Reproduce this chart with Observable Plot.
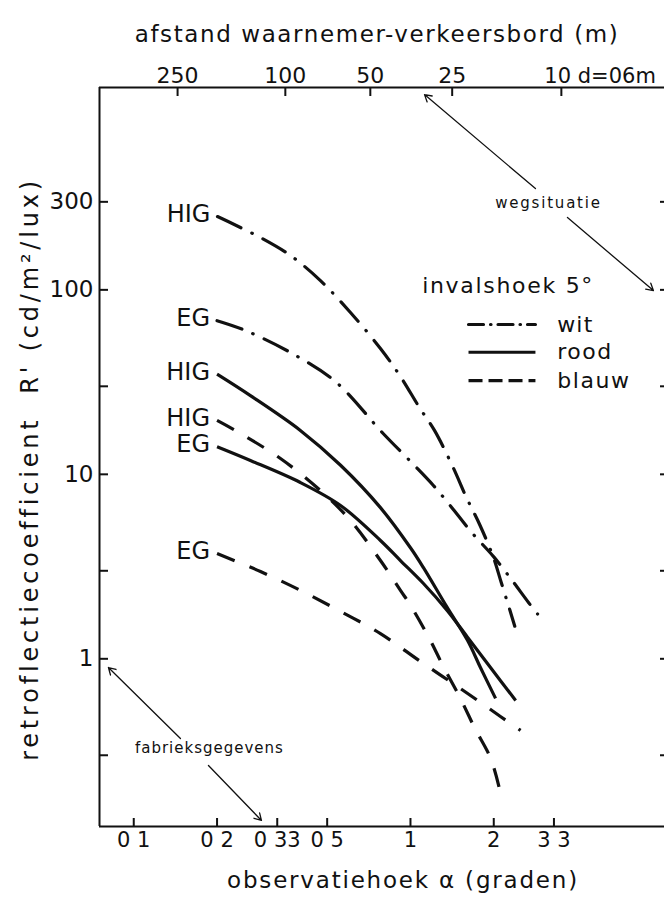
<!DOCTYPE html>
<html><head><meta charset="utf-8">
<script src="https://cdn.jsdelivr.net/npm/d3@7"></script>
<script src="https://cdn.jsdelivr.net/npm/@observablehq/plot@0.6"></script>
<style>
html,body{margin:0;padding:0;background:#fff;overflow:hidden;}
#chart svg{display:block;}
</style></head><body><div id="chart"></div>
<script>
// ---- data ----
const angleTicks = [0.1, 0.2, 0.33, 0.5, 1, 2, 3.3];
const angleTickLabels = ["0 1", "0 2", "0 33", "0 5", "1", "2", "3 3"];
const rTicks = [300, 100, 30, 10, 3, 1, 0.3];
const rTickLabels = [300, 100, 10, 1];
const distances = ["250", "100", "50", "25", "10 d=06m"];
const distanceAngles = [0.144, 0.353, 0.716, 1.415, 3.51];

const witHIG_a = [0.2007, 0.287, 0.3685, 0.4728, 0.6069, 0.7789, 0.920, 1.078, 1.2213, 1.427, 1.581, 1.785, 1.995, 2.127, 2.285, 2.382];
const witHIG_r = [249.6, 192.1, 153.5, 112.3, 75.4, 48.1, 33.9, 23.0, 17.3, 10.88, 7.68, 5.28, 3.54, 2.60, 1.843, 1.502];
const witEG_a = [0.2, 0.2533, 0.369, 0.5358, 0.795, 1.02, 1.21, 1.40, 1.66, 2.0, 2.33, 2.67, 2.88];
const witEG_r = [68, 60.2, 45.7, 31.8, 16.7, 11.4, 8.7, 6.7, 4.86, 3.57, 2.66, 2.02, 1.75];
const roodHIG_a = [0.2, 0.264, 0.40, 0.559, 0.779, 1.0, 1.114, 1.357, 1.607, 1.79, 2.03];
const roodHIG_r = [34.9, 26.7, 17.3, 11.2, 6.6, 4.0, 3.12, 1.9, 1.26, 0.897, 0.61];
const roodEG_a = [0.2, 0.264, 0.40, 0.559, 0.779, 0.92, 1.114, 1.357, 1.607, 1.946, 2.4];
const roodEG_r = [14.1, 11.88, 9.03, 6.78, 4.38, 3.41, 2.56, 1.83, 1.31, 0.897, 0.594];
const blauwHIG_a = [0.2, 0.239, 0.339, 0.473, 0.607, 0.779, 0.92, 1.0, 1.17, 1.32, 1.516, 1.71, 1.95, 2.114];
const blauwHIG_r = [19.6, 16.9, 12.18, 8.17, 5.62, 3.41, 2.35, 1.95, 1.29, 0.897, 0.609, 0.419, 0.288, 0.188];
const blauwEG_a = [0.2, 0.287, 0.40, 0.559, 0.779, 1.087, 1.516, 2.114, 2.5];
const blauwEG_r = [3.72, 2.972, 2.35, 1.807, 1.37, 0.967, 0.690, 0.487, 0.409];

const kleuren = ["wit", "rood", "blauw"];
const typen = ["HIG", "EG"];

// ---- build table ----
const seriesList = [
  {kleur: "wit", type: "HIG", a: witHIG_a, r: witHIG_r},
  {kleur: "wit", type: "EG", a: witEG_a, r: witEG_r},
  {kleur: "rood", type: "HIG", a: roodHIG_a, r: roodHIG_r},
  {kleur: "rood", type: "EG", a: roodEG_a, r: roodEG_r},
  {kleur: "blauw", type: "HIG", a: blauwHIG_a, r: blauwHIG_r},
  {kleur: "blauw", type: "EG", a: blauwEG_a, r: blauwEG_r}
];
const rows = seriesList.flatMap(s => s.a.map((a, i) => ({kleur: s.kleur, type: s.type, key: s.kleur + s.type, a, r: s.r[i]})));
const starts = seriesList.map(s => ({kleur: s.kleur, type: s.type, a: s.a[0], r: s.r[0]}));

const dash = {wit: "26,12,0.5,12", rood: null, blauw: "19,16"};
const legendDash = {wit: "15,7,0.5,7", rood: null, blauw: "14,6"};

const font = "DejaVu Sans";
const xDomain = [0.0752, 8.28];
const yDomain = [0.1233, 1250];
const ink = "#111";

const titleTop = "afstand waarnemer-verkeersbord (m)";
const titleBottom = "observatiehoek \u03b1 (graden)";
const titleLeft = "retroflectiecoefficient  R' (cd/m\u00b2/lux)";
const legendTitle = "invalshoek 5\u00b0";

const lineMarks = kleuren.map(k => Plot.line(rows.filter(d => d.kleur === k), {
  x: "a", y: "r", z: "key", stroke: ink, strokeWidth: 3.2,
  strokeDasharray: dash[k], strokeLinecap: k === "wit" ? "round" : "butt",
  curve: "catmull-rom"
}));

const legendRows = kleuren.map((k, i) => ({kleur: k, i}));
const legendR = [64.9, 45.9, 32.2];

const chart = Plot.plot({
  width: 664, height: 902,
  marginTop: 87, marginBottom: 76, marginLeft: 99, marginRight: 0,
  style: {fontFamily: font, color: ink, background: "#fff"},
  x: {type: "log", domain: xDomain, axis: null},
  y: {type: "log", domain: yDomain, axis: null},
  marks: [
    // frame lines
    Plot.ruleX([xDomain[0]], {stroke: ink, strokeWidth: 2}),
    Plot.ruleY([yDomain[0]], {stroke: ink, strokeWidth: 2}),
    Plot.ruleY([yDomain[1]], {stroke: ink, strokeWidth: 2}),
    // left axis (inward ticks) + labels
    Plot.axisY(rTicks, {anchor: "left", tickSize: -9, strokeWidth: 2, tickFormat: () => null, label: null}),
    Plot.text(rTickLabels, {x: xDomain[0], y: d => d, text: d => String(d), textAnchor: "end", dx: -6, fontSize: 23}),
    // right axis ticks
    Plot.axisY(rTicks, {anchor: "right", tickSize: -5, strokeWidth: 2, tickFormat: () => null, label: null}),
    // bottom axis
    Plot.axisX(angleTicks, {anchor: "bottom", tickSize: -8, strokeWidth: 2, tickFormat: () => null, label: null}),
    Plot.text(angleTicks, {x: d => d, y: yDomain[0], text: (d, i) => angleTickLabels[i], lineAnchor: "top", dy: 6, fontSize: 21}),
    // top axis
    Plot.axisX(distanceAngles, {anchor: "top", tickSize: -8, strokeWidth: 2, tickFormat: () => null, label: null}),
    Plot.text(distanceAngles.slice(0, 4), {x: d => d, y: yDomain[1], text: (d, i) => distances[i], lineAnchor: "bottom", dy: -5, fontSize: 22}),
    Plot.text([distances[4]], {x: distanceAngles[4], y: yDomain[1], textAnchor: "start", lineAnchor: "bottom",
      dx: -17, dy: -5, fontSize: 21}),
    // titles
    Plot.text([titleTop], {frameAnchor: "top", textAnchor: "middle", dx: -5, dy: -62, fontSize: 23}),
    Plot.text([titleBottom], {frameAnchor: "bottom", textAnchor: "middle", dx: 21, dy: 61, fontSize: 23}),
    Plot.text([titleLeft], {frameAnchor: "left", textAnchor: "middle", dx: -69, dy: 12, rotate: -90, fontSize: 24}),
    // curves
    ...lineMarks,
    // curve labels
    Plot.text(starts, {x: "a", y: "r", text: "type", textAnchor: "end", dx: -7, dy: -2, fontSize: 24}),
    // legend
    Plot.text([legendTitle], {x: 1.102, y: 105.5, textAnchor: "start", fontSize: 22}),
    ...legendRows.map(d => Plot.link([d], {x1: 1.621, x2: 2.829, y1: legendR[d.i], y2: legendR[d.i],
      stroke: ink, strokeWidth: 3.2, strokeDasharray: legendDash[d.kleur], strokeLinecap: d.kleur === "wit" ? "round" : "butt"})),
    Plot.text(legendRows, {x: 3.39, y: (d) => legendR[d.i], text: "kleur", textAnchor: "start", fontSize: 22}),
    // annotations
    Plot.text(["wegsituatie"], {x: 3.153, y: 293.6, fontSize: 15}),
    Plot.arrow([0], {x1: 2.829, y1: 354, x2: 1.124, y2: 1144, stroke: ink, strokeWidth: 1.3, headLength: 9}),
    Plot.arrow([0], {x1: 3.693, y1: 246.6, x2: 7.55, y2: 99.1, stroke: ink, strokeWidth: 1.3, headLength: 9}),
    Plot.text(["fabrieksgegevens"], {x: 0.1877, y: 0.3266, fontSize: 15}),
    Plot.arrow([0], {x1: 0.1475, y1: 0.37, x2: 0.081, y2: 0.897, stroke: ink, strokeWidth: 1.3, headLength: 9}),
    Plot.arrow([0], {x1: 0.1862, y1: 0.264, x2: 0.2894, y2: 0.133, stroke: ink, strokeWidth: 1.3, headLength: 9})
  ]
});

// letter spacing to match the wide technical lettering
const spacing = new Map([
  [titleTop, 1.6], [titleBottom, 1.8], [titleLeft, 3.8], [legendTitle, 1.7],
  ["wit", 1.2], ["rood", 1.5], ["blauw", 1.6], ["wegsituatie", 1.8], ["fabrieksgegevens", 1]
]);
d3.select(chart).selectAll("text").each(function () {
  const s = spacing.get(this.textContent);
  if (s != null) d3.select(this).attr("letter-spacing", s);
});
document.getElementById("chart").appendChild(chart);
</script>
</body></html>
